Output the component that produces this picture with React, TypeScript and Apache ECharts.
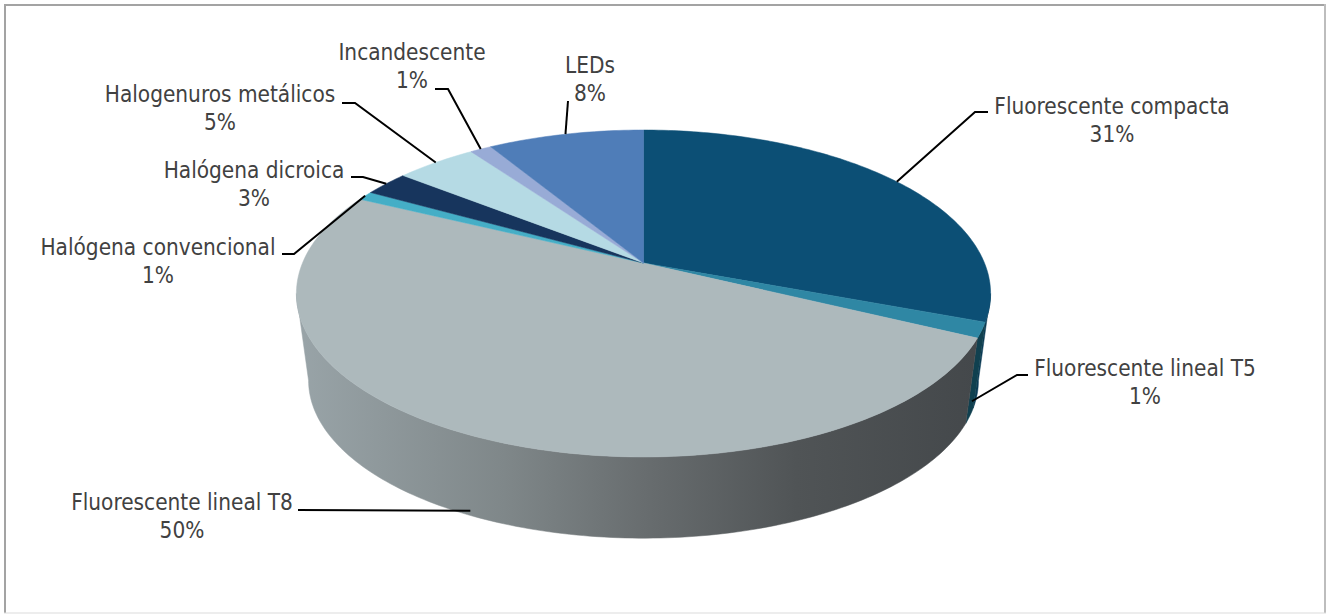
import React, { useEffect, useRef } from "react";
import * as echarts from "echarts";

const categories = [
  "Fluorescente compacta",
  "Fluorescente lineal T5",
  "Fluorescente lineal T8",
  "Halógena convencional",
  "Halógena dicroica",
  "Halogenuros metálicos",
  "Incandescente",
  "LEDs",
];
const shares = [30.7, 1.5, 50.0, 0.9, 2.5, 4.5, 1.2, 8.7];
const percentLabels = ["31%", "1%", "50%", "1%", "3%", "5%", "1%", "8%"];

const topColors = ["#0c4f75", "#2f87a4", "#adb9bc", "#45aec6", "#17355d", "#b5dae4", "#98abd6", "#4f7db8"];
const wallColors = ["#0a3a55", "#10404f", "", "#2d7f91", "#0e2240", "#80a0a8", "#6f7d9c", "#395b86"];

// Projection of the tilted disc
const PIE = {
  cx: 643.5,
  apexY: 263,
  a: 341,
  b: 157.8,
  k: 0.1865,
  bottomApexY: 351,
  bottomScale: 0.965,
};

// Label centres, elbows of the leader lines and how far down the wall each leader lands
const LABELS = [
  { x: 1112, y: 120, elbow: [[988, 112], [975, 112]], depth: 0 },
  { x: 1145, y: 382, elbow: [[1028, 375], [1017, 375]], depth: 0.83 },
  { x: 182, y: 516, elbow: [[298, 510]], depth: 0.94 },
  { x: 158, y: 261, elbow: [[282, 254], [294, 254]], depth: 0 },
  { x: 254, y: 184, elbow: [[351, 177], [363, 177]], depth: 0 },
  { x: 220, y: 108, elbow: [[342, 103], [355, 103]], depth: 0 },
  { x: 412, y: 66, elbow: [[435, 89], [448, 89]], depth: 0 },
  { x: 590, y: 79, elbow: [[568, 101]], depth: 0 },
];

const total = shares.reduce((s, v) => s + v, 0);
const starts: number[] = [];
shares.reduce((acc, v, i) => {
  starts[i] = acc;
  return acc + v;
}, 0);
const toAngle = (share: number) => (share / total) * Math.PI * 2;

// The rim's leftmost and rightmost points: only the wall between them faces the viewer
const FRONT_START = Math.acos(-PIE.k);
const FRONT_END = Math.PI * 2 - FRONT_START;

function project(t: number, depth: number): [number, number] {
  const u = Math.sin(t);
  const v = Math.cos(t);
  const w = 1 + PIE.k * v;
  const px = (PIE.a * u) / w;
  const py = (-PIE.b * v) / w;
  const s = 1 + (PIE.bottomScale - 1) * depth;
  const oy = PIE.apexY + (PIE.bottomApexY - PIE.apexY) * depth;
  return [PIE.cx + px * s, oy + py * s];
}

function arc(t0: number, t1: number, depth: number): [number, number][] {
  const n = Math.max(2, Math.ceil(((t1 - t0) * 180) / Math.PI));
  const pts: [number, number][] = [];
  for (let i = 0; i <= n; i++) pts.push(project(t0 + ((t1 - t0) * i) / n, depth));
  return pts;
}

const wallGradient = new echarts.graphic.LinearGradient(
  297,
  0,
  991,
  0,
  [
    { offset: 0, color: "#99a4a8" },
    { offset: 0.3, color: "#7f8789" },
    { offset: 0.5, color: "#686d6f" },
    { offset: 0.72, color: "#505456" },
    { offset: 1, color: "#43474a" },
  ],
  true
);

const TEXT_FONT = '"DejaVu Sans Condensed", "DejaVu Sans", sans-serif';

export default function App() {
  const ref = useRef<HTMLDivElement>(null);
  useEffect(() => {
    document.body.style.margin = "0";
    const chart = echarts.init(ref.current!, undefined, { renderer: "svg" });
    const data = shares.map((v, i) => ({ value: v, name: categories[i] }));
    const range = (i: number): [number, number] => [toAngle(starts[i]), toAngle(starts[i] + shares[i])];

    chart.setOption({
      animation: false,
      backgroundColor: "#ffffff",
      graphic: [
        { type: "rect", z: 0, shape: { x: 4, y: 4, width: 1321, height: 2 }, style: { fill: "#a3a3a3" } },
        { type: "rect", z: 0, shape: { x: 4, y: 4, width: 2, height: 609 }, style: { fill: "#a3a3a3" } },
        { type: "rect", z: 0, shape: { x: 1324, y: 4, width: 2, height: 609 }, style: { fill: "#bdbdbd" } },
        { type: "rect", z: 0, shape: { x: 4, y: 612.5, width: 1322, height: 1 }, style: { fill: "#dcdcdc" } },
      ],
      series: [
        {
          type: "custom",
          coordinateSystem: "none",
          z: 1,
          silent: true,
          data,
          renderItem: (params: any) => {
            const i = params.dataIndex;
            const [a0, a1] = range(i);
            const t0 = Math.max(a0, FRONT_START);
            const t1 = Math.min(a1, FRONT_END);
            if (t1 <= t0) return { type: "group", children: [] };
            const pts = [...arc(t0, t1, 0), ...arc(t0, t1, 1).reverse()];
            const fill = wallColors[i] || wallGradient;
            return { type: "polygon", shape: { points: pts }, style: { fill, stroke: fill, lineWidth: 0.5 } };
          },
        },
        {
          type: "custom",
          coordinateSystem: "none",
          z: 2,
          silent: true,
          data,
          renderItem: (params: any) => {
            const i = params.dataIndex;
            const [t0, t1] = range(i);
            const pts = [[PIE.cx, PIE.apexY], ...arc(t0, t1, 0)];
            return {
              type: "polygon",
              shape: { points: pts },
              style: { fill: topColors[i], stroke: topColors[i], lineWidth: 0.5 },
            };
          },
        },
        {
          type: "custom",
          coordinateSystem: "none",
          z: 3,
          silent: true,
          data,
          renderItem: (params: any) => {
            const i = params.dataIndex;
            const [t0, t1] = range(i);
            const layout = LABELS[i];
            const end = project((t0 + t1) / 2, layout.depth);
            return {
              type: "group",
              children: [
                {
                  type: "polyline",
                  shape: { points: [...layout.elbow, end] },
                  style: { fill: "none", stroke: "#000000", lineWidth: 2 },
                },
                {
                  type: "text",
                  style: {
                    text: `${categories[i]}\n${percentLabels[i]}`,
                    x: layout.x,
                    y: layout.y,
                    align: "center",
                    verticalAlign: "middle",
                    fontFamily: TEXT_FONT,
                    fontSize: 22.4,
                    lineHeight: 28,
                    fill: "#414141",
                  },
                },
              ],
            };
          },
        },
      ],
    });
    return () => chart.dispose();
  }, []);
  return <div ref={ref} style={{ width: 1326, height: 614, overflow: "hidden" }} />;
}
